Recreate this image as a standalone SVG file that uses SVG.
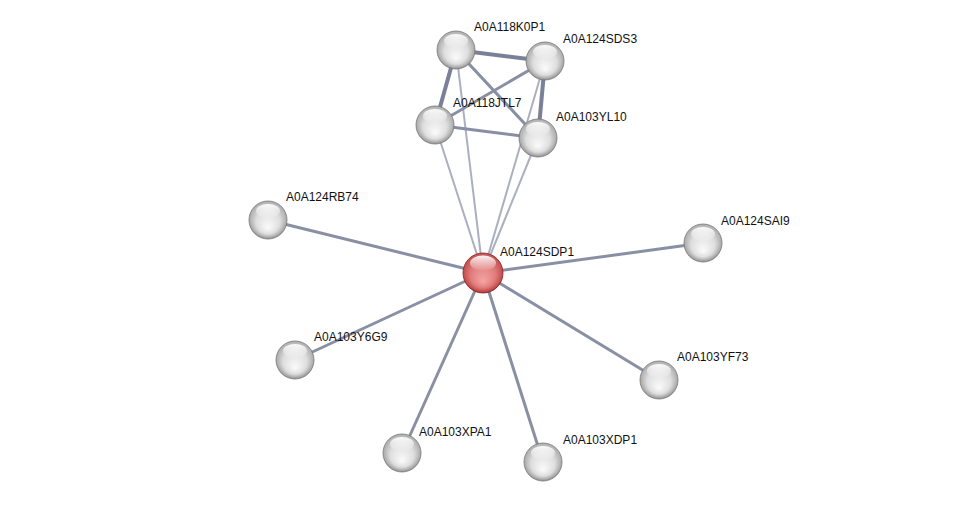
<svg xmlns="http://www.w3.org/2000/svg" width="975" height="507" viewBox="0 0 975 507">
<defs>
<radialGradient id="gw" cx="0.5" cy="0.4" r="0.62" fx="0.5" fy="0.72">
<stop offset="0" stop-color="#fbfbfb"/>
<stop offset="0.5" stop-color="#dedede"/>
<stop offset="0.8" stop-color="#a8a8a8"/>
<stop offset="1" stop-color="#7c7c7c"/>
</radialGradient>
<radialGradient id="gr" cx="0.5" cy="0.4" r="0.62" fx="0.5" fy="0.72">
<stop offset="0" stop-color="#f6a4a4"/>
<stop offset="0.5" stop-color="#e07c7c"/>
<stop offset="0.8" stop-color="#c24c4c"/>
<stop offset="1" stop-color="#962424"/>
</radialGradient>
<linearGradient id="sh" x1="0" y1="0" x2="0" y2="1">
<stop offset="0" stop-color="#ffffff" stop-opacity="0.95"/>
<stop offset="1" stop-color="#ffffff" stop-opacity="0.05"/>
</linearGradient>
</defs>
<style>
.e{fill:none;stroke-linecap:butt}
.r{stroke:#8a90a4;stroke-width:3}
.l{stroke:#abafc0;stroke-width:2}
.t{stroke:#7a8098;stroke-width:4}
.m{stroke:#888ea4;stroke-width:3}
.n{fill:url(#gw);stroke:#777;stroke-width:0.8}
.c{fill:url(#gr);stroke:#8a2020;stroke-width:0.8}
.s{fill:url(#sh)}
text{font-family:"Liberation Sans",Arial,sans-serif;font-size:12px;fill:#111}
</style>
<rect width="975" height="507" fill="#ffffff"/>
<g id="edges">
<line class="e l" x1="483" y1="273" x2="435" y2="125"/>
<line class="e l" x1="483" y1="273" x2="456" y2="50"/>
<line class="e l" x1="483" y1="273" x2="538" y2="138"/>
<line class="e l" x1="483" y1="273" x2="545" y2="61"/>
<line class="e r" x1="483" y1="273" x2="268" y2="220"/>
<line class="e r" x1="483" y1="273" x2="703" y2="243"/>
<line class="e r" x1="483" y1="273" x2="295" y2="360"/>
<line class="e r" x1="483" y1="273" x2="659" y2="380"/>
<line class="e r" x1="483" y1="273" x2="402" y2="453"/>
<line class="e r" x1="483" y1="273" x2="543" y2="462"/>
<line class="e t" x1="456" y1="50" x2="545" y2="61"/>
<line class="e t" x1="456" y1="50" x2="435" y2="125"/>
<line class="e t" x1="545" y1="61" x2="538" y2="138"/>
<line class="e m" x1="435" y1="125" x2="538" y2="138"/>
<line class="e m" x1="456" y1="50" x2="538" y2="138"/>
<line class="e m" x1="435" y1="125" x2="545" y2="61"/>
</g>
<g id="n-K0P1"><circle class="n" cx="456" cy="50" r="19"/><ellipse class="s" cx="456" cy="41" rx="12" ry="7"/><text x="474" y="31">A0A118K0P1</text></g>
<g id="n-SDS3"><circle class="n" cx="545" cy="61" r="19"/><ellipse class="s" cx="545" cy="52" rx="12" ry="7"/><text x="563" y="43">A0A124SDS3</text></g>
<g id="n-JTL7"><circle class="n" cx="435" cy="125" r="19"/><ellipse class="s" cx="435" cy="116" rx="12" ry="7"/><text x="453" y="107">A0A118JTL7</text></g>
<g id="n-YL10"><circle class="n" cx="538" cy="138" r="19"/><ellipse class="s" cx="538" cy="129" rx="12" ry="7"/><text x="556" y="121">A0A103YL10</text></g>
<g id="n-RB74"><circle class="n" cx="268" cy="220" r="19"/><ellipse class="s" cx="268" cy="211" rx="12" ry="7"/><text x="286" y="201">A0A124RB74</text></g>
<g id="n-SAI9"><circle class="n" cx="703" cy="243" r="19"/><ellipse class="s" cx="703" cy="234" rx="12" ry="7"/><text x="721" y="225">A0A124SAI9</text></g>
<g id="n-SDP1"><circle class="c" cx="483" cy="273" r="20"/><ellipse class="s" cx="483" cy="263" rx="13" ry="7.5"/><text x="500" y="256">A0A124SDP1</text></g>
<g id="n-Y6G9"><circle class="n" cx="295" cy="360" r="19"/><ellipse class="s" cx="295" cy="351" rx="12" ry="7"/><text x="314" y="341">A0A103Y6G9</text></g>
<g id="n-YF73"><circle class="n" cx="659" cy="380" r="19"/><ellipse class="s" cx="659" cy="371" rx="12" ry="7"/><text x="677" y="361">A0A103YF73</text></g>
<g id="n-XPA1"><circle class="n" cx="402" cy="453" r="19"/><ellipse class="s" cx="402" cy="444" rx="12" ry="7"/><text x="419" y="436">A0A103XPA1</text></g>
<g id="n-XDP1"><circle class="n" cx="543" cy="462" r="19"/><ellipse class="s" cx="543" cy="453" rx="12" ry="7"/><text x="563" y="444">A0A103XDP1</text></g>
</svg>
